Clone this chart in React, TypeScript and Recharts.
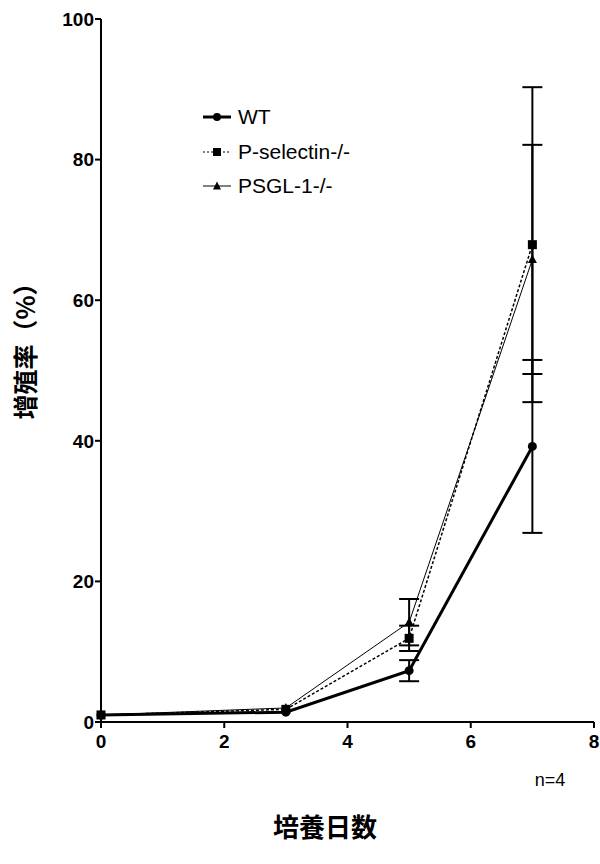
import React from 'react';
import { LineChart, Line, XAxis, YAxis, ErrorBar } from 'recharts';

const days = [0, 3, 5, 7];
const wtValues = [1.0, 1.4, 7.3, 39.2];
const wtErrors = [null, null, 1.5, 12.3];
const pselValues = [1.0, 1.8, 11.9, 67.9];
const pselErrors = [null, null, 1.8, 22.4];
const psglValues = [1.0, 2.0, 14.2, 65.8];
const psglErrors = [null, null, 3.3, 16.3];
const xTicks = [0, 2, 4, 6, 8];
const yTicks = [0, 20, 40, 60, 80, 100];

const data = days.map((d, i) => ({
    day: d,
    wt: wtValues[i],
    wtErr: wtErrors[i],
    psel: pselValues[i],
    pselErr: pselErrors[i],
    psgl: psglValues[i],
    psglErr: psglErrors[i],
}));

const CircleDot = (props: any) => {
    const { cx, cy } = props;
    return <circle cx={cx} cy={cy} r={4.5} fill="#000" />;
};

const SquareDot = (props: any) => {
    const { cx, cy } = props;
    return <rect x={cx - 4.5} y={cy - 4.5} width={9} height={9} fill="#000" />;
};

const TriangleDot = (props: any) => {
    const { cx, cy } = props;
    return <polygon points={`${cx},${cy - 5} ${cx - 4.5},${cy + 3.5} ${cx + 4.5},${cy + 3.5}`} fill="#000" />;
};

const legendItems = [
    { label: 'WT', dash: undefined, width: 3, marker: 'circle' },
    { label: 'P-selectin-/-', dash: '2 2', width: 1.2, marker: 'square' },
    { label: 'PSGL-1-/-', dash: undefined, width: 1, marker: 'triangle' },
];

const LegendBox = () => (
    <div style={{ position: 'absolute', left: 202, top: 100, fontFamily: '"Liberation Sans", Arial, sans-serif', fontSize: 21 }}>
        {legendItems.map((item) => (
            <div key={item.label} style={{ display: 'flex', alignItems: 'center', height: 34.5 }}>
                <svg width={36} height={14}>
                    <line x1={1} y1={7} x2={29} y2={7} stroke="#000" strokeWidth={item.width} strokeDasharray={item.dash} />
                    {item.marker === 'circle' && <circle cx={15} cy={7} r={4} fill="#000" />}
                    {item.marker === 'square' && <rect x={11} y={3} width={8} height={8} fill="#000" />}
                    {item.marker === 'triangle' && <polygon points="15,2.5 11,10.5 19,10.5" fill="#000" />}
                </svg>
                <span>{item.label}</span>
            </div>
        ))}
    </div>
);

const tickStyle = { fontFamily: '"Liberation Sans", Arial, sans-serif', fontSize: 19, fontWeight: 'bold', fill: '#000' };

export default function App() {
    return (
        <div style={{ position: 'absolute', left: 0, top: 0, width: 600, height: 864, background: '#fff' }}>
            <LineChart width={600} height={864} data={data} margin={{ top: 19, right: 6, left: 41, bottom: 112 }}>
                <XAxis
                    dataKey="day"
                    type="number"
                    domain={[0, 8]}
                    ticks={xTicks}
                    height={30}
                    stroke="#000"
                    strokeWidth={2}
                    tickSize={6}
                    tickMargin={7}
                    tick={tickStyle}
                />
                <YAxis
                    type="number"
                    domain={[0, 100]}
                    ticks={yTicks}
                    width={60}
                    stroke="#000"
                    strokeWidth={2}
                    tickSize={6}
                    tickMargin={1}
                    tick={tickStyle}
                />
                <Line
                    dataKey="psgl"
                    stroke="#000"
                    strokeWidth={1}
                    dot={<TriangleDot />}
                    activeDot={false}
                    isAnimationActive={false}
                >
                    <ErrorBar dataKey="psglErr" width={10} stroke="#000" strokeWidth={2} />
                </Line>
                <Line
                    dataKey="psel"
                    stroke="#000"
                    strokeWidth={1.5}
                    strokeDasharray="3 2"
                    dot={<SquareDot />}
                    activeDot={false}
                    isAnimationActive={false}
                >
                    <ErrorBar dataKey="pselErr" width={10} stroke="#000" strokeWidth={2} />
                </Line>
                <Line
                    dataKey="wt"
                    stroke="#000"
                    strokeWidth={3}
                    dot={<CircleDot />}
                    activeDot={false}
                    isAnimationActive={false}
                >
                    <ErrorBar dataKey="wtErr" width={10} stroke="#000" strokeWidth={2} />
                </Line>
            </LineChart>
            <LegendBox />
            <div
                style={{
                    position: 'absolute',
                    left: 24,
                    top: 345,
                    transform: 'translate(-50%, -50%) rotate(-90deg)',
                    whiteSpace: 'nowrap',
                    fontFamily: '"Noto Sans CJK SC", sans-serif',
                    fontWeight: 'bold',
                    fontSize: 25,
                }}
            >
                增殖率（%）
            </div>
            <div
                style={{
                    position: 'absolute',
                    left: 325,
                    top: 825,
                    transform: 'translate(-50%, -50%)',
                    whiteSpace: 'nowrap',
                    fontFamily: '"Noto Sans CJK JP", sans-serif',
                    fontWeight: 'bold',
                    fontSize: 26,
                }}
            >
                培養日数
            </div>
            <div
                style={{
                    position: 'absolute',
                    left: 550,
                    top: 780,
                    transform: 'translate(-50%, -50%)',
                    fontFamily: '"Liberation Sans", Arial, sans-serif',
                    fontSize: 18,
                }}
            >
                n=4
            </div>
        </div>
    );
}
